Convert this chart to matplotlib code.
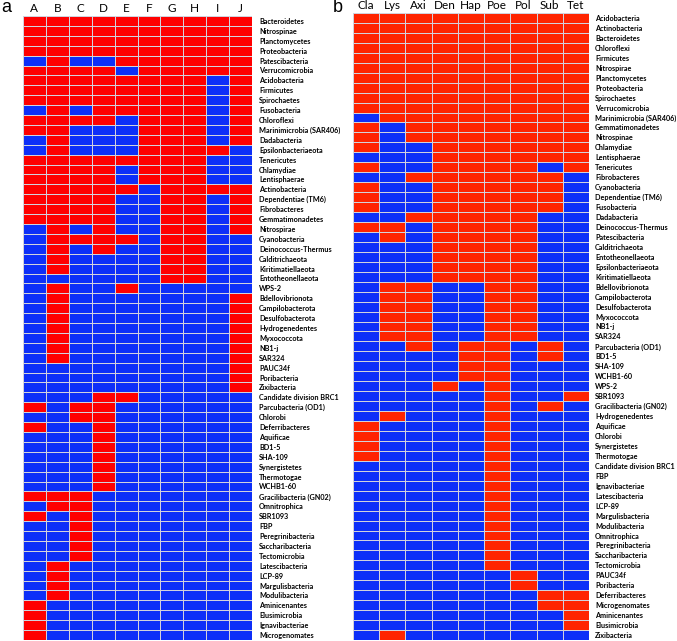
import numpy as np
import matplotlib
matplotlib.use("Agg")
import matplotlib.pyplot as plt
from matplotlib.colors import ListedColormap

# panel a
cols_a = ["A", "B", "C", "D", "E", "F", "G", "H", "I", "J"]
rows_a = ["Bacteroidetes", "Nitrospinae", "Planctomycetes", "Proteobacteria",
          "Patescibacteria", "Verrucomicrobia", "Acidobacteria", "Firmicutes",
          "Spirochaetes", "Fusobacteria", "Chloroflexi", "Marinimicrobia (SAR406)",
          "Dadabacteria", "Epsilonbacteriaeota", "Tenericutes", "Chlamydiae",
          "Lentisphaerae", "Actinobacteria", "Dependentiae (TM6)", "Fibrobacteres",
          "Gemmatimonadetes", "Nitrospirae", "Cyanobacteria", "Deinococcus-Thermus",
          "Calditrichaeota", "Kiritimatiellaeota", "Entotheonellaeota", "WPS-2",
          "Bdellovibrionota", "Campilobacterota", "Desulfobacterota", "Hydrogenedentes",
          "Myxococcota", "NB1-j", "SAR324", "PAUC34f", "Poribacteria", "Zixibacteria",
          "Candidate division BRC1", "Parcubacteria (OD1)", "Chlorobi", "Deferribacteres",
          "Aquificae", "BD1-5", "SHA-109", "Synergistetes", "Thermotogae", "WCHB1-60",
          "Gracilibacteria (GN02)", "Omnitrophica", "SBR1093", "FBP", "Peregrinibacteria",
          "Saccharibacteria", "Tectomicrobia", "Latescibacteria", "LCP-89",
          "Margulisbacteria", "Modulibacteria", "Aminicenantes", "Elusimicrobia",
          "Ignavibacteriae", "Microgenomates"]
# 1 = present (red), 0 = absent (blue)
vals_a = ["1111111111", "1111111111", "1111111111", "1111111111",
          "0100111111", "1111011111", "1111111101", "1111111101",
          "1111111101", "0101111101", "1111011101", "1100011101",
          "0100011101", "0100011110", "1111111100", "1111011100",
          "1111011100", "1111101111", "1111001101", "1111001101",
          "1111001101", "0101001101", "0111101100", "0101001100",
          "0100001100", "0100001100", "0000001100", "0100100000",
          "0100000001", "0100000001", "0100000001", "0100000001",
          "0100000001", "0100000001", "0100000001", "0000000001", "0000000001", "0000000001",
          "0001100000", "1011000000", "0011000000", "1001000000",
          "0001000000", "0001000000", "0001000000", "0001000000", "0001000000", "0001000000",
          "1110000000", "0110000000", "1010000000", "0010000000", "0010000000",
          "0010000000", "0010000000", "0100000000", "0100000000",
          "0100000000", "0100000000", "1000000000", "1000000000",
          "1000000000", "1000000000"]

# panel b
cols_b = ["Cla", "Lys", "Axi", "Den", "Hap", "Poe", "Pol", "Sub", "Tet"]
rows_b = ["Acidobacteria", "Actinobacteria", "Bacteroidetes", "Chloroflexi",
          "Firmicutes", "Nitrospirae", "Planctomycetes", "Proteobacteria",
          "Spirochaetes", "Verrucomicrobia", "Marinimicrobia (SAR406)",
          "Gemmatimonadetes", "Nitrospinae", "Chlamydiae", "Lentisphaerae",
          "Tenericutes", "Fibrobacteres", "Cyanobacteria", "Dependentiae (TM6)",
          "Fusobacteria", "Dadabacteria", "Deinococcus-Thermus", "Patescibacteria",
          "Calditrichaeota", "Entotheonellaeota", "Epsilonbacteriaeota",
          "Kiritimatiellaeota", "Bdellovibrionota", "Campilobacterota",
          "Desulfobacterota", "Myxococcota", "NB1-j", "SAR324", "Parcubacteria (OD1)",
          "BD1-5", "SHA-109", "WCHB1-60", "WPS-2", "SBR1093", "Gracilibacteria (GN02)",
          "Hydrogenedentes", "Aquificae", "Chlorobi", "Synergistetes", "Thermotogae",
          "Candidate division BRC1", "FBP", "Ignavibacteriae", "Latescibacteria",
          "LCP-89", "Margulisbacteria", "Modulibacteria", "Omnitrophica",
          "Peregrinibacteria", "Saccharibacteria", "Tectomicrobia", "PAUC34f",
          "Poribacteria", "Deferribacteres", "Microgenomates", "Aminicenantes",
          "Elusimicrobia", "Zixibacteria"]
vals_b = ["111111111", "111111111", "111111111", "111111111", "111111111",
          "111111111", "111111111", "111111111", "111111111", "111111111",
          "011111111", "101111111", "101111111", "100111111", "000111111",
          "100111101", "001111110", "100111110", "100111110", "100111110",
          "001111100", "110111100", "010111100", "000111100", "000111100",
          "000111100", "000111100", "011001100", "011001100", "011001100",
          "011001100", "011001100", "011001100", "001011010", "000011010",
          "000011000", "000011000", "000101000", "000001001", "000001010",
          "010001000", "100001000", "100001000", "100001000", "100001000",
          "000001000", "000001000", "000001000", "000001000", "000001000",
          "000001000", "000001000", "000001000", "000001000", "000001000",
          "000001000", "000000100", "000000100", "000000011", "000000011",
          "000000001", "000000001", "010000000"]

W, H = 677, 641
fig = plt.figure(figsize=(W / 100, H / 100), dpi=100)


def panel(rect, cols, rows, vals, red, blue, letter, lx, ly, lpad):
    m = np.array([[int(c) for c in r] for r in vals])
    ax = fig.add_axes(rect)
    cmap = ListedColormap([blue, red])
    ax.pcolormesh(m, cmap=cmap, vmin=0, vmax=1, edgecolors="#d2d2dc", linewidth=0.65)
    ax.set_xlim(0, len(cols))
    ax.set_ylim(len(rows), 0)
    ax.xaxis.tick_top()
    ax.set_xticks(np.arange(len(cols)) + 0.5)
    ax.set_xticklabels(cols, fontsize=8.5, family="Lato")
    ax.yaxis.tick_right()
    ax.set_yticks(np.arange(len(rows)) + 0.5)
    ax.set_yticklabels(rows, fontsize=5.2, family="Lato", fontweight="bold")
    ax.tick_params(length=0, axis="y", pad=lpad)
    ax.tick_params(length=0, axis="x", pad=1.2)
    for s in ax.spines.values():
        s.set_visible(False)
    fig.text(lx / W, 1 - ly / H, letter, fontsize=13, family="Liberation Sans",
             va="center", ha="left")
    return ax


panel([23 / W, 1 / H, 229 / W, 624 / H], cols_a, rows_a, vals_a,
      "#ff0000", "#0d2ff8", "a", 1, 8, 5)
panel([353 / W, 1 / H, 236 / W, 627 / H], cols_b, rows_b, vals_b,
      "#ff2400", "#0d2ff8", "b", 333, 7, 4.3)

fig.savefig("out.png", dpi=100)
